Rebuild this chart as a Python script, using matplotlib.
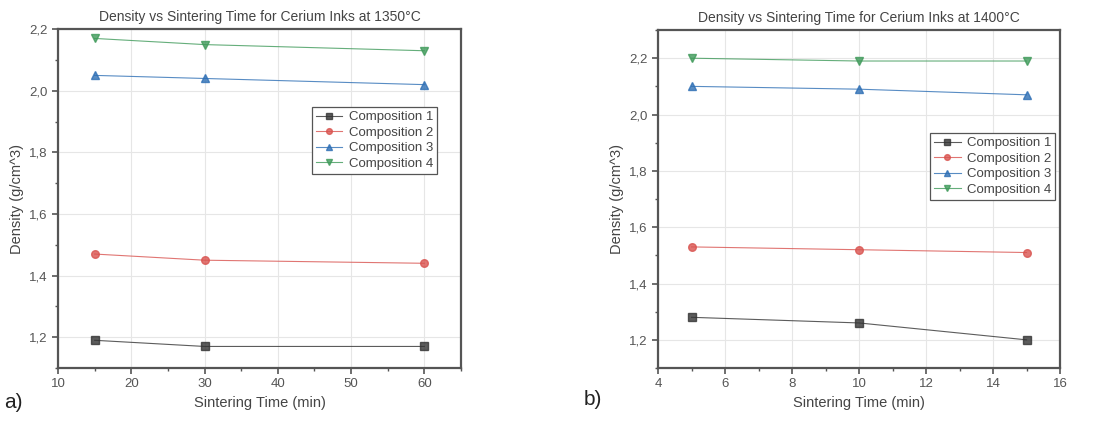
import matplotlib
matplotlib.use("Agg")
import matplotlib.pyplot as plt
from matplotlib.ticker import MultipleLocator, FuncFormatter

# ---- data ----
labels = ["Composition 1", "Composition 2", "Composition 3", "Composition 4"]

time_a = [15, 30, 60]
dens_a = [
    [1.19, 1.17, 1.17],
    [1.47, 1.45, 1.44],
    [2.05, 2.04, 2.02],
    [2.17, 2.15, 2.13],
]

time_b = [5, 10, 15]
dens_b = [
    [1.28, 1.26, 1.20],
    [1.53, 1.52, 1.51],
    [2.10, 2.09, 2.07],
    [2.20, 2.19, 2.19],
]

colors = ["#333333", "#d9534f", "#2e6fb5", "#3f9a5a"]
markers = ["s", "o", "^", "v"]

plt.rcParams.update({
    "font.family": "Liberation Sans",
    "font.size": 9,
})

comma = FuncFormatter(lambda v, p: f"{v:.1f}".replace(".", ","))


def panel(ax, x, ys, title, xlim, ylim, xmaj, xmin_, legend_anchor):
    for y, c, m, lab in zip(ys, colors, markers, labels):
        ax.plot(x, y, color=c, lw=0.8, alpha=0.8, marker=m, ms=5.5,
                mfc=c, mec=c, label=lab, zorder=3)
    ax.set_xlim(*xlim)
    ax.set_ylim(*ylim)
    ax.xaxis.set_major_locator(MultipleLocator(xmaj))
    ax.xaxis.set_minor_locator(MultipleLocator(xmin_))
    ax.yaxis.set_major_locator(MultipleLocator(0.2))
    ax.yaxis.set_minor_locator(MultipleLocator(0.1))
    ax.yaxis.set_major_formatter(comma)
    ax.grid(which="major", color="#e6e6e6", lw=0.8)
    ax.set_axisbelow(True)
    for s in ax.spines.values():
        s.set_linewidth(1.6)
        s.set_color("#555555")
    ax.tick_params(which="major", direction="out", length=4, width=1.2,
                   colors="#555555", labelcolor="#555555", labelsize=9.5)
    ax.tick_params(which="minor", direction="out", length=2.5, width=1.0,
                   colors="#555555")
    ax.set_title(title, fontsize=10, color="#444444", pad=6)
    ax.set_xlabel("Sintering Time (min)", fontsize=10.5, color="#444444")
    ax.set_ylabel("Density (g/cm^3)", fontsize=10.5, color="#444444")
    leg = ax.legend(loc="upper left", bbox_to_anchor=legend_anchor, fontsize=9.5,
                    fancybox=False, edgecolor="#555555", framealpha=1,
                    handlelength=2.0, borderpad=0.3, labelspacing=0.25,
                    handletextpad=0.5, borderaxespad=0, markerscale=0.75)
    leg.get_frame().set_linewidth(0.9)
    for t in leg.get_texts():
        t.set_color("#444444")


fig = plt.figure(figsize=(10.96, 4.23), dpi=100)
ax1 = fig.add_axes([0.0529, 0.130, 0.3677, 0.801])
ax2 = fig.add_axes([0.6004, 0.130, 0.3668, 0.799])

panel(ax1, time_a, dens_a, "Density vs Sintering Time for Cerium Inks at 1350°C",
      (10, 65), (1.1, 2.2), 10, 5, (0.63, 0.77))
panel(ax2, time_b, dens_b, "Density vs Sintering Time for Cerium Inks at 1400°C",
      (4, 16), (1.1, 2.3), 2, 1, (0.677, 0.695))

fig.text(0.004, 0.035, "a)", fontsize=15, color="#222222")
fig.text(0.533, 0.042, "b)", fontsize=15, color="#222222")

fig.savefig("out.png", dpi=100, facecolor="white")
